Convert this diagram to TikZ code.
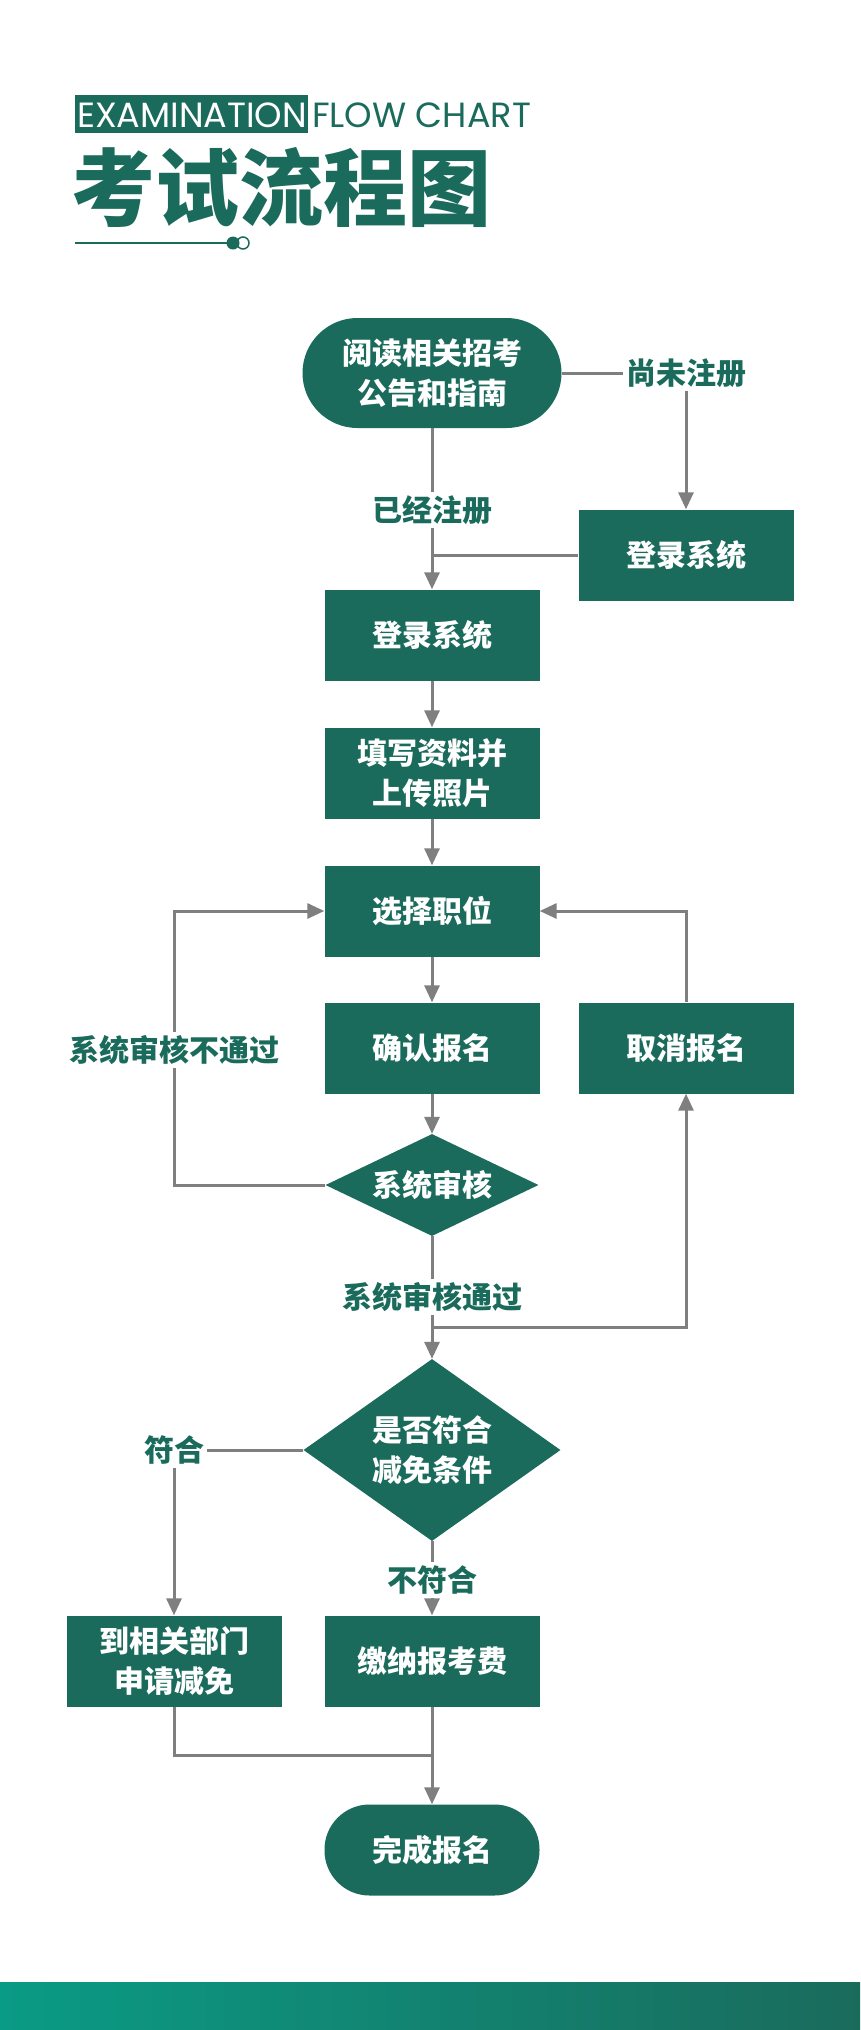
\documentclass[tikz,border=0pt]{standalone}
\usepackage{fontspec}
\setmainfont{Poppins}
\newfontfamily\cjk{Noto Sans CJK SC}
\usetikzlibrary{shapes.geometric,arrows.meta}
\definecolor{pine}{HTML}{1A6B5C}
\definecolor{sea}{HTML}{0A9B85}
\definecolor{wire}{HTML}{7F7F7F}

\begin{document}
\begin{tikzpicture}[
  x = 1pt, y = -1pt,
  stepbox/.style = {fill = pine, text = white, minimum width = 215pt, minimum height = 91pt,
                    inner sep = 0pt, align = center, font = \cjk\bfseries\fontsize{30}{40}\selectfont},
  endbox/.style = {stepbox, rounded corners = 45pt},
  choice/.style = {stepbox, diamond},
  tag/.style = {text = pine, inner sep = 3pt, font = \cjk\bfseries\fontsize{30}{36}\selectfont},
  joint/.style = {draw = wire, line width = 3pt},
  flowto/.style = {joint, -{Triangle[length = 17pt, width = 15pt]}},
  ]
  \fill[white] (0,0) rectangle (860,2030);
  \useasboundingbox (0,0) rectangle (860,2030);

  % header
  \fill[pine] (75,95) rectangle (308,133);
  \node[anchor = west, inner sep = 0pt, text = white, font = \fontsize{35}{35}\selectfont] (exam) at (77,115) {EXAMINATION};
  \node[anchor = west, inner sep = 0pt, text = pine, font = \fontsize{35}{35}\selectfont] (chart) at (312,115) {FLOW CHART};
  \node[anchor = west, inner sep = 0pt, text = pine, font = \cjk\bfseries\fontsize{84}{84}\selectfont] (title) at (71,187) {考试流程图};
  \draw[pine, line width = 2.5pt] (75,243) -- (232,243);
  \draw[pine, line width = 1.5pt] (243,243) circle (6);
  \fill[pine] (233,243) circle (6.5);

  % steps
  \node[endbox, minimum width = 259pt, minimum height = 110pt, rounded corners = 55pt] (read) at (432,373) {阅读相关招考\\公告和指南};
  \node[tag] (unreg) at (686,373) {尚未注册};
  \node[stepbox] (login2) at (686,555) {登录系统};
  \node[tag] (reg) at (432,510) {已经注册};
  \node[stepbox] (login) at (432,635) {登录系统};
  \node[stepbox] (fill) at (432,773) {填写资料并\\上传照片};
  \node[stepbox] (choose) at (432,911) {选择职位};
  \node[stepbox] (confirm) at (432,1048) {确认报名};
  \node[stepbox] (cancel) at (686,1048) {取消报名};
  \node[choice, aspect = 2.1, minimum width = 213pt, minimum height = 102pt] (check) at (432,1185) {系统审核};
  \node[tag] (fail) at (174,1050) {系统审核不通过};
  \node[tag] (pass) at (432,1297) {系统审核通过};
  \coordinate (split) at (432,1327);
  \node[choice, aspect = 1.41, minimum width = 257pt, minimum height = 182pt] (free) at (432,1450) {是否符合\\减免条件};
  \node[tag] (yes) at (174,1450) {符合};
  \node[tag] (no) at (432,1580) {不符合};
  \node[stepbox] (apply) at (174,1661) {到相关部门\\申请减免};
  \node[stepbox] (pay) at (432,1661) {缴纳报考费};
  \coordinate (merge) at (432,1755);
  \node[endbox] (done) at (432,1850) {完成报名};

  % connectors
  \path[joint] (read) -- (reg);
  \path[flowto] (reg) -- (login);
  \path[joint] (read.east) -- (unreg.west);
  \path[flowto] (unreg) -- (login2);
  \path[joint] (login2.west) -- (login2.west -| login.north);
  \path[flowto] (login) -- (fill);
  \path[flowto] (fill) -- (choose);
  \path[flowto] (choose) -- (confirm);
  \path[flowto] (confirm) -- (check);
  \path[joint] (check.west) -| (fail.south);
  \path[flowto] (fail.north) |- (choose.west);
  \path[joint] (check) -- (pass);
  \path[joint] (pass) -- (split);
  \path[flowto] (split) -- (free);
  \path[flowto] (split) -| (cancel.south);
  \path[flowto] (cancel.north) |- (choose.east);
  \path[joint] (free.west) -- (yes.east);
  \path[flowto] (yes) -- (apply);
  \path[joint] (free) -- (no);
  \path[flowto] (no) -- (pay);
  \path[joint] (apply.south) |- (merge);
  \path[flowto] (pay) -- (done);

  % footer band
  \shade[left color = sea, right color = pine] (0,1982) rectangle (860,2030);
\end{tikzpicture}
\end{document}
